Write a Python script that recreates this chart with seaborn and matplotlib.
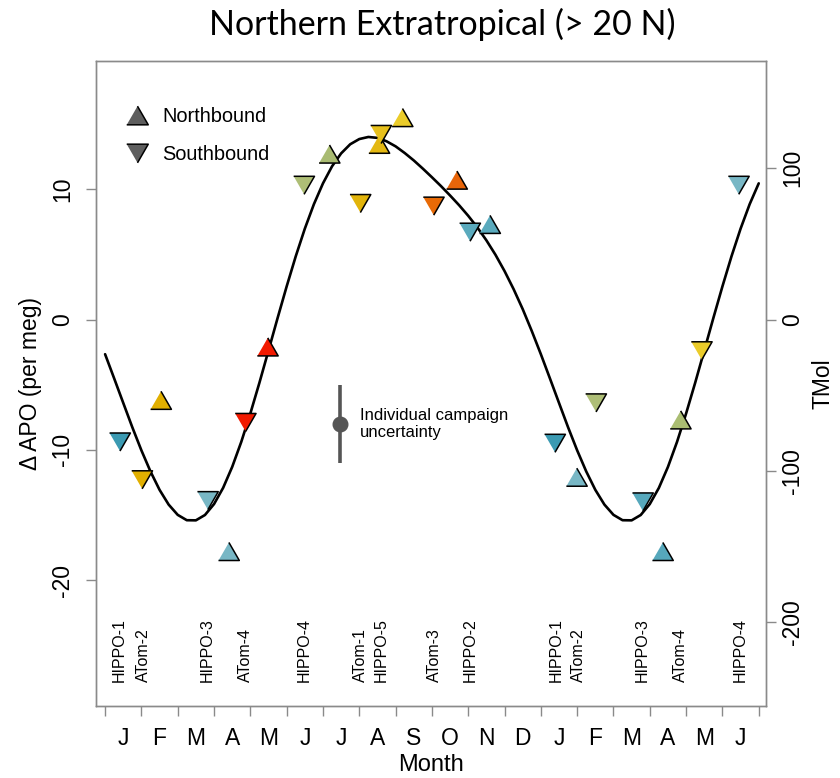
import numpy as np
import pandas as pd
import matplotlib
matplotlib.use("Agg")
import matplotlib.pyplot as plt
import seaborn as sns
from matplotlib.lines import Line2D

# ---------- data ---------- #

month_letters = ["J", "F", "M", "A", "M", "J", "J", "A", "S", "O", "N", "D",
                 "J", "F", "M", "A", "M", "J"]

# campaign means (month since 1 Jan, delta APO in per meg)
point_month = [0.41, 1.02, 1.54, 2.83, 3.41, 3.87, 4.48, 5.48, 6.18, 7.03,
               7.55, 7.60, 8.19, 9.05, 9.69, 10.05, 10.60, 12.39, 12.99,
               13.52, 14.81, 15.36, 15.85, 16.43, 17.45]
point_apo = [-9.4, -12.3, -6.2, -13.9, -17.8, -7.9, -2.1, 10.3, 12.7, 8.9,
             13.45, 14.2, 15.5, 8.7, 10.7, 6.7, 7.3, -9.5, -12.1,
             -6.4, -14.0, -17.8, -7.7, -2.4, 10.3]
point_dir = ["Southbound", "Southbound", "Northbound", "Southbound", "Northbound",
             "Southbound", "Northbound", "Southbound", "Northbound", "Southbound",
             "Northbound", "Southbound", "Northbound", "Southbound", "Northbound",
             "Southbound", "Northbound", "Southbound", "Northbound", "Southbound",
             "Southbound", "Northbound", "Northbound", "Southbound", "Southbound"]
point_colour = ["#3B9AB2", "#E1AF00", "#E1AF00", "#78B7C5", "#78B7C5",
                "#F21A00", "#F21A00", "#AEBE76", "#A9BB72", "#E2B40A",
                "#E4B812", "#E7C01C", "#EBCC2A", "#E86A06", "#E8650A",
                "#5AAABD", "#5AAABD", "#3B9AB2", "#78B7C5", "#AEBE76",
                "#56A8BC", "#56A8BC", "#AABD72", "#EBCC2A", "#78B7C5"]

# seasonal fit curve, read every quarter month
curve_month = [0.0, 0.25, 0.5, 0.75, 1.0, 1.25, 1.5, 1.75, 2.0, 2.25, 2.5, 2.75,
               3.0, 3.25, 3.5, 3.75, 4.0, 4.25, 4.5, 4.75, 5.0, 5.25, 5.5, 5.75,
               6.0, 6.25, 6.5, 6.75, 7.0, 7.25, 7.5, 7.75, 8.0, 8.25, 8.5, 8.75,
               9.0, 9.25, 9.5, 9.75, 10.0, 10.25, 10.5, 10.75, 11.0, 11.25, 11.5, 11.75,
               12.0, 12.25, 12.5, 12.75, 13.0, 13.25, 13.5, 13.75, 14.0, 14.25, 14.5, 14.75,
               15.0, 15.25, 15.5, 15.75, 16.0, 16.25, 16.5, 16.75, 17.0, 17.25, 17.5, 17.75,
               18.0]
curve_apo = [-2.66, -4.52, -6.40, -8.27, -10.04, -11.66, -13.07, -14.20, -14.99, -15.40, -15.41, -15.00,
             -14.16, -12.92, -11.31, -9.39, -7.21, -4.85, -2.38, 0.11, 2.54, 4.85, 6.97, 8.85,
             10.45, 11.76, 12.75, 13.45, 13.85, 14.01, 13.94, 13.68, 13.29, 12.78, 12.21, 11.58,
             10.92, 10.24, 9.52, 8.77, 7.96, 7.07, 6.08, 4.97, 3.72, 2.33, 0.80, -0.88,
             -2.66, -4.52, -6.40, -8.27, -10.04, -11.66, -13.07, -14.20, -14.99, -15.40, -15.41, -15.00,
             -14.16, -12.92, -11.31, -9.39, -7.21, -4.85, -2.38, 0.11, 2.54, 4.85, 6.97, 8.85,
             10.45]

campaign_names = ["HIPPO-1", "ATom-2", "HIPPO-3", "ATom-4", "HIPPO-4", "ATom-1",
                  "HIPPO-5", "ATom-3", "HIPPO-2", "HIPPO-1", "ATom-2", "HIPPO-3",
                  "ATom-4", "HIPPO-4"]
campaign_month = [0.39, 1.05, 2.81, 3.86, 5.48, 7.02, 7.60, 9.06, 10.06,
                  12.42, 13.03, 14.79, 15.84, 17.49]

unc_month, unc_apo, unc_err = 6.48, -8.0, 3.0

TMOL_PER_MEG = 8.61

# ---------- plot ---------- #

sns.set_style("white")
plt.rcParams["font.family"] = ["Liberation Sans", "DejaVu Sans"]
plt.rcParams["axes.unicode_minus"] = False
plt.rcParams["text.color"] = "black"
plt.rcParams["axes.labelcolor"] = "black"
plt.rcParams["xtick.labelcolor"] = "black"
plt.rcParams["ytick.labelcolor"] = "black"

FRAME = "#8a8a8a"
up = [(-1, -0.866), (1, -0.866), (0, 0.866)]
down = [(-1, 0.866), (1, 0.866), (0, -0.866)]

df = pd.DataFrame({"month": point_month, "apo": point_apo,
                   "direction": point_dir, "colour": point_colour})

fig = plt.figure(figsize=(8.4, 7.78), dpi=100)
ax = fig.add_axes([0.1143, 0.0925, 0.7976, 0.8291])

sns.lineplot(x=curve_month, y=curve_apo, color="black", lw=1.9, ax=ax, zorder=2)
sns.scatterplot(data=df, x="month", y="apo", style="direction",
                markers={"Northbound": up, "Southbound": down},
                hue="colour", palette={c: c for c in point_colour},
                s=225, edgecolor="black", linewidth=1.1, legend=False,
                ax=ax, zorder=3)

# uncertainty marker
ax.errorbar(unc_month, unc_apo, yerr=unc_err, fmt="o", color="#555555",
            ms=10.5, elinewidth=2.6, capsize=0, zorder=3)
ax.text(unc_month + 0.54, unc_apo, "Individual campaign\nuncertainty",
        fontsize=12, ha="left", va="center", linespacing=1.15)

# campaign names along the bottom
for name, m in zip(campaign_names, campaign_month):
    ax.text(m, -27.8, name, rotation=90, fontsize=11.5, ha="center", va="bottom")

ax.set_xlim(-0.25, 18.2)
ax.set_ylim(-29.66, 19.84)

ax.set_xticks(np.arange(0, 19))
ax.set_xticklabels([])
ax.set_xticks(np.arange(0.5, 18), minor=True)
ax.set_xticklabels(month_letters, minor=True, fontsize=16.5)
ax.tick_params(axis="x", which="major", length=7, width=1, color=FRAME,
               direction="out", bottom=True)
ax.tick_params(axis="x", which="minor", length=0, pad=15)
ax.set_xlabel("Month", fontsize=17, labelpad=3)

ax.set_yticks([-20, -10, 0, 10])
ax.tick_params(axis="y", length=7, width=1, color=FRAME, direction="out",
               left=True, labelsize=16.5, pad=9)
plt.setp(ax.get_yticklabels(), rotation=90, va="center")
ax.set_ylabel("\u0394 APO (per meg)", fontsize=16.5, labelpad=6)

for sp in ax.spines.values():
    sp.set_color(FRAME)
    sp.set_linewidth(1)

ax2 = ax.twinx()
ax2.set_ylim(ax.get_ylim()[0] * TMOL_PER_MEG, ax.get_ylim()[1] * TMOL_PER_MEG)
ax2.set_yticks([-200, -100, 0, 100])
ax2.tick_params(axis="y", length=7, width=1, color=FRAME, direction="out",
                right=True, labelsize=16.5, pad=4)
plt.setp(ax2.get_yticklabels(), rotation=90, va="center")
ax2.set_ylabel("TMol", fontsize=16.5, labelpad=5)
for sp in ax2.spines.values():
    sp.set_color(FRAME)
    sp.set_linewidth(1)

handles = [Line2D([], [], ls="", marker=up, ms=15.5, mfc="#5e5e5e", mec="black",
                  mew=1.1, label="Northbound"),
           Line2D([], [], ls="", marker=down, ms=15.5, mfc="#5e5e5e", mec="black",
                  mew=1.1, label="Southbound")]
ax.legend(handles=handles, loc="upper left", bbox_to_anchor=(0.029, 0.941),
          frameon=False, fontsize=14.4, handletextpad=0.55, labelspacing=0.95,
          handlelength=1.4, borderaxespad=0)

fig.text(0.527, 0.955, "Northern Extratropical (> 20 N)", family="Lato",
         fontsize=24.5, ha="center", va="baseline", color="black")

fig.savefig("out.png", dpi=100)
